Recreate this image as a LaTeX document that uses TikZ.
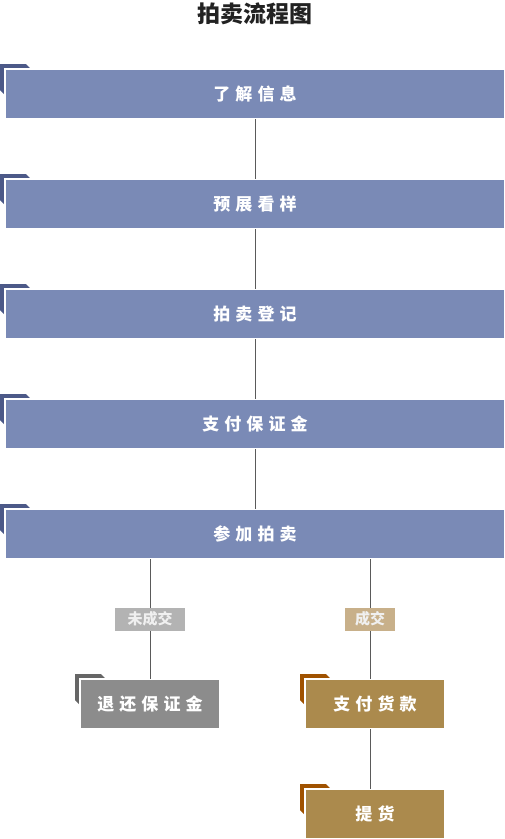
\documentclass[tikz,border=0pt]{standalone}
\usepackage{fontspec}
\setmainfont{Noto Sans CJK SC}[BoldFont={Noto Sans CJK SC Black}]
\newfontfamily\boxfont{Noto Sans CJK SC}[BoldFont={Noto Sans CJK SC Black},LetterSpace=30]
\usetikzlibrary{backgrounds,positioning}
\definecolor{stepblue}{RGB}{122,138,182}
\definecolor{stepbluedark}{RGB}{76,89,136}
\definecolor{stepgray}{RGB}{140,140,140}
\definecolor{stepgraydark}{RGB}{102,102,102}
\definecolor{stepgold}{RGB}{171,138,77}
\definecolor{stepgolddark}{RGB}{160,82,0}
\definecolor{taggray}{RGB}{179,179,179}
\definecolor{taggold}{RGB}{200,176,138}
\definecolor{linkgray}{RGB}{90,90,90}
\definecolor{titleink}{RGB}{34,34,34}
\tikzset{
  stepbox/.style={fill=#1, draw=white, line width=1.5bp, inner sep=0pt, outer sep=0pt,
    minimum height=50bp, text=white,
    font=\boxfont\bfseries\fontsize{17bp}{17bp}\selectfont},
  wide/.style={stepbox=stepblue, minimum width=500bp},
  narrow/.style={stepbox=#1, minimum width=140bp},
  tag/.style={fill=#1, inner sep=0pt, minimum height=23bp, text=white!94!black,
    font=\bfseries\fontsize{15bp}{15bp}\selectfont},
  link/.style={draw=linkgray, line width=0.8bp}
}
\begin{document}
\begin{tikzpicture}[x=1bp,y=-1bp]
  \useasboundingbox (0,0) rectangle (505,839);
  \node[font=\bfseries\fontsize{23bp}{23bp}\selectfont, text=titleink] (head) at (255,14) {拍卖流程图};
  \node[wide] (info) at (255,94) {了解信息};
  \node[wide, below=60bp of info] (view) {预展看样};
  \node[wide, below=60bp of view] (reg) {拍卖登记};
  \node[wide, below=60bp of reg] (dep) {支付保证金};
  \node[wide, below=60bp of dep] (bid) {参加拍卖};
  \node[narrow=stepgray] (refund) at (150,704) {退还保证金};
  \node[narrow=stepgold] (pay) at (375,704) {支付货款};
  \node[narrow=stepgold, below=60bp of pay] (fetch) {提货};
  \begin{scope}[on background layer]
    \foreach \n/\c in {info/stepbluedark,view/stepbluedark,reg/stepbluedark,dep/stepbluedark,bid/stepbluedark,refund/stepgraydark,pay/stepgolddark,fetch/stepgolddark}
      \fill[\c, shift={(\n.north west)}] (-5,-5) -- (21,-5) -- (30,4) -- (4,30) -- (-5,21) -- cycle;
  \end{scope}
  \draw[link] (info) -- (view) (view) -- (reg) (reg) -- (dep) (dep) -- (bid);
  \draw[link] (refund.north |- bid.south) -- node[tag=taggray, minimum width=70bp]{未成交} (refund.north);
  \draw[link] ([xshift=-5bp]pay.north |- bid.south) -- node[tag=taggold, minimum width=50bp]{成交} ([xshift=-5bp]pay.north);
  \draw[link] ([xshift=-5bp]pay.south) -- ([xshift=-5bp]fetch.north);
\end{tikzpicture}
\end{document}
